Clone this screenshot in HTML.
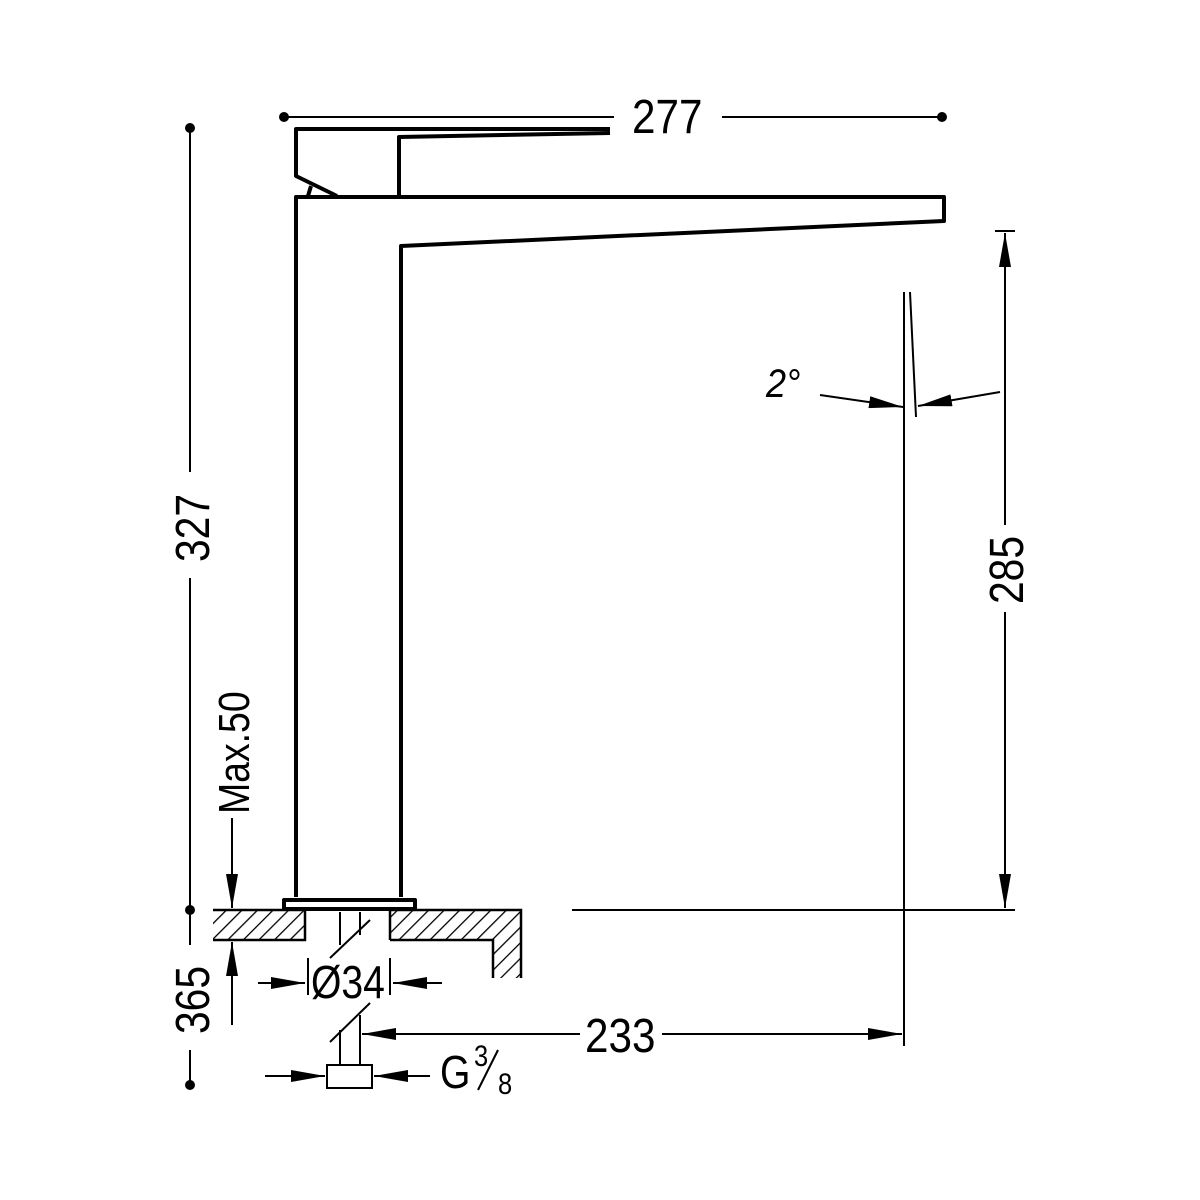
<!DOCTYPE html>
<html><head><meta charset="utf-8"><style>html,body{margin:0;padding:0;background:#fff}svg{display:block}</style></head>
<body>
<svg width="1200" height="1200" viewBox="0 0 1200 1200" xmlns="http://www.w3.org/2000/svg">
<defs>
<pattern id="h" patternUnits="userSpaceOnUse" width="11" height="11" patternTransform="rotate(45)">
<line x1="0" y1="0" x2="0" y2="11" stroke="#000" stroke-width="2.6"/>
</pattern>
<marker id="a" viewBox="0 0 34 12" refX="34" refY="6" markerWidth="34" markerHeight="12" markerUnits="userSpaceOnUse" orient="auto">
<path d="M0,0 L34,6 L0,12 Z" fill="#000"/>
</marker>
</defs>
<g font-family="Liberation Sans, sans-serif" fill="#000">
<circle cx="284" cy="117" r="5"/>
<line x1="284" y1="117" x2="614" y2="117" stroke="#000" stroke-width="2"/>
<line x1="722" y1="117" x2="942" y2="117" stroke="#000" stroke-width="2"/>
<circle cx="942" cy="117" r="5"/>
<text transform="translate(632,133) scale(0.88,1)" font-size="48">277</text>

<g fill="none" stroke="#000" stroke-width="4" stroke-linejoin="round">
<path d="M610,129 L296,129 L296,176 L337,196"/>
<path d="M399,196 L399,137 L610,133"/>
<line x1="311" y1="186" x2="308" y2="196"/>
<path d="M296,897 L296,197 L944,197 L944,221 L401,246 L401,897"/>
<rect x="284" y="900" width="131" height="9"/>
</g>

<path d="M213,910 L305,910 L305,940 L213,940 Z" fill="url(#h)"/>
<path d="M213,910 L305,910 L305,940 L213,940" fill="none" stroke="#000" stroke-width="2.5"/>
<path d="M390,910 L521,910 L521,978 L493,978 L493,940 L390,940 Z" fill="url(#h)"/>
<path d="M390,940 L390,910 L521,910 L521,978 M493,978 L493,940 L390,940" fill="none" stroke="#000" stroke-width="2.5"/>
<line x1="572" y1="910" x2="1015" y2="910" stroke="#000" stroke-width="2"/>

<g stroke="#000" stroke-width="2" fill="none">
<line x1="340" y1="912" x2="340" y2="945"/>
<line x1="360" y1="912" x2="360" y2="935"/>
<line x1="330" y1="958" x2="370" y2="920"/>
<line x1="330" y1="1042" x2="370" y2="1003"/>
<line x1="340" y1="1030" x2="340" y2="1065"/>
<line x1="360" y1="1015" x2="360" y2="1065"/>
<rect x="327" y="1065" width="45" height="23"/>
<line x1="308" y1="958" x2="308" y2="995"/>
<line x1="390" y1="958" x2="390" y2="995"/>
<line x1="258" y1="983" x2="305" y2="983" marker-end="url(#a)"/>
<line x1="442" y1="983" x2="393" y2="983" marker-end="url(#a)"/>
<line x1="265" y1="1076" x2="325" y2="1076" marker-end="url(#a)"/>
<line x1="430" y1="1076" x2="374" y2="1076" marker-end="url(#a)"/>
<line x1="580" y1="1034" x2="362" y2="1034" marker-end="url(#a)"/>
<line x1="662" y1="1034" x2="902" y2="1034" marker-end="url(#a)"/>
</g>
<text transform="translate(311,998) scale(0.85,1)" font-size="46">Ø34</text>
<text transform="translate(440,1088) scale(0.85,1)" font-size="46">G</text>
<text transform="translate(474,1066) scale(0.85,1)" font-size="30">3</text>
<line x1="478" y1="1090" x2="498" y2="1050" stroke="#000" stroke-width="2"/>
<text transform="translate(498,1094) scale(0.85,1)" font-size="30">8</text>
<text transform="translate(585,1052) scale(0.88,1)" font-size="48">233</text>

<circle cx="190" cy="128" r="5"/>
<line x1="190" y1="128" x2="190" y2="472" stroke="#000" stroke-width="2"/>
<line x1="190" y1="578" x2="190" y2="910" stroke="#000" stroke-width="2"/>
<circle cx="190" cy="910" r="5"/>
<line x1="190" y1="910" x2="190" y2="945" stroke="#000" stroke-width="2"/>
<line x1="190" y1="1050" x2="190" y2="1085" stroke="#000" stroke-width="2"/>
<circle cx="190" cy="1085" r="5"/>
<text transform="translate(209,562) rotate(-90) scale(0.85,1)" font-size="48">327</text>
<text transform="translate(209,1034) rotate(-90) scale(0.85,1)" font-size="48">365</text>
<text transform="translate(249,814) rotate(-90) scale(0.85,1)" font-size="44">Max.50</text>
<line x1="232" y1="818" x2="232" y2="908" stroke="#000" stroke-width="2" marker-end="url(#a)"/>
<line x1="232" y1="1025" x2="232" y2="942" stroke="#000" stroke-width="2" marker-end="url(#a)"/>

<line x1="995" y1="231" x2="1015" y2="231" stroke="#000" stroke-width="2"/>
<line x1="1005" y1="525" x2="1005" y2="233" stroke="#000" stroke-width="2" marker-end="url(#a)"/>
<line x1="1005" y1="612" x2="1005" y2="908" stroke="#000" stroke-width="2" marker-end="url(#a)"/>
<text transform="translate(1023,604) rotate(-90) scale(0.85,1)" font-size="48">285</text>

<line x1="904" y1="292" x2="904" y2="1046" stroke="#000" stroke-width="2"/>
<line x1="910" y1="292" x2="916" y2="417" stroke="#000" stroke-width="2"/>
<line x1="820" y1="395" x2="903" y2="407" stroke="#000" stroke-width="2" marker-end="url(#a)"/>
<line x1="1000" y1="392" x2="918" y2="406" stroke="#000" stroke-width="2" marker-end="url(#a)"/>
<text transform="translate(766,397) scale(0.9,1)" font-size="40" font-style="italic">2°</text>
</g>
</svg>
</body></html>
